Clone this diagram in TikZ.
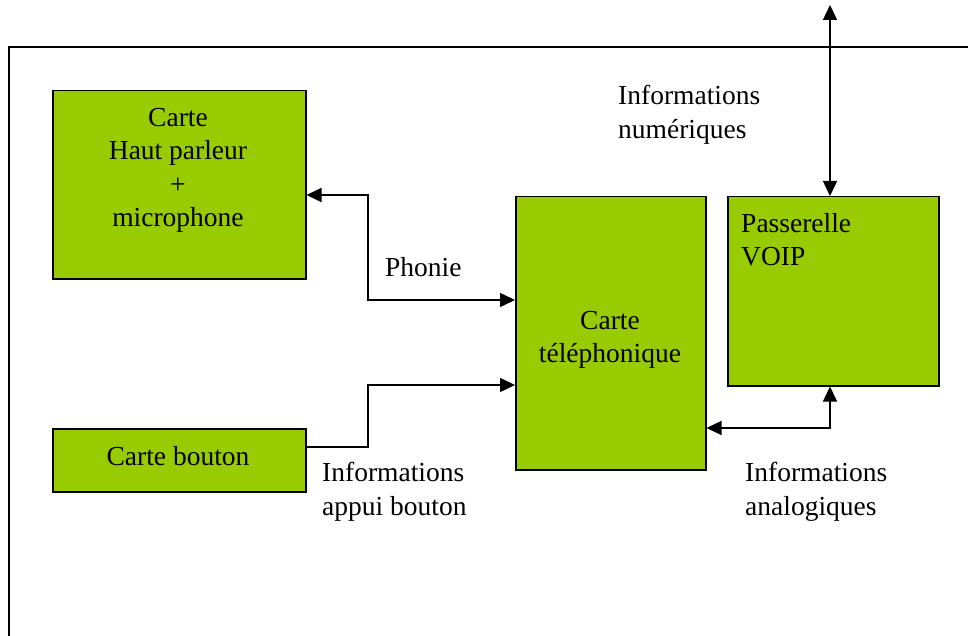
\documentclass[tikz,border=0pt]{standalone}
\usepackage{fontspec}
\setmainfont{Liberation Serif}
\usetikzlibrary{arrows.meta}
\definecolor{boxgreen}{HTML}{99CC00}
\begin{document}
\begin{tikzpicture}[x=1pt,y=-1pt,
  blk/.style={draw=black,line width=1.5pt,fill=boxgreen,inner sep=0pt,anchor=north west},
  txt/.style={font=\fontsize{27.5}{33.5}\selectfont,inner sep=0pt},
  con/.style={line width=1.5pt,-{Triangle[length=15pt,width=14pt]}},
  con2/.style={line width=1.5pt,{Triangle[length=15pt,width=14pt]}-{Triangle[length=15pt,width=14pt]}}]
\useasboundingbox (0,0) rectangle (968,636);
\draw[line width=1.5pt] (9,636) -- (9,47) -- (968,47);
% boxes
\node[blk,minimum width=253pt,minimum height=188pt] (hp) at (52,90) {};
\node[blk,minimum width=253pt,minimum height=63pt] (bt) at (52,428) {};
\node[blk,minimum width=190pt,minimum height=273pt] (tel) at (515,196) {};
\node[blk,minimum width=211pt,minimum height=189pt] (gw) at (727,196) {};
% box texts
\node[txt,align=center,anchor=north] (hpt) at (178,108) {Carte\\Haut parleur\\+\\microphone};
\node[txt] (btt) at (178,456) {Carte bouton};
\node[txt,align=center,anchor=north] (telt) at (610,311) {Carte\\téléphonique};
\node[txt,align=left,anchor=north west] (gwt) at (741,213) {Passerelle\\VOIP};
% coordinates
\coordinate (top) at (830,5);
\coordinate (p1) at (368,195);
\coordinate (p2) at (368,300);
\coordinate (b1) at (368,447);
\coordinate (b2) at (368,385);
\coordinate (a1) at (830,428);
% connectors
\draw[con2] (hp.east |- p1) -- (p1) -- (p2) -- (tel.west |- p2);
\draw[con] (bt.east |- b1) -- (b1) -- (b2) -- (tel.west |- b2);
\draw[con2] (tel.east |- a1) -- (a1) -- (gw.south -| a1);
\draw[con2] (top) -- (gw.north -| top);
% labels
\node[txt,align=left,anchor=north west] (ln) at (618,85) {Informations\\numériques};
\node[txt,anchor=north west] (lp) at (385,257) {Phonie};
\node[txt,align=left,anchor=north west] (lb) at (322,462) {Informations\\appui bouton};
\node[txt,align=left,anchor=north west] (la) at (745,462) {Informations\\analogiques};
\end{tikzpicture}
\end{document}
